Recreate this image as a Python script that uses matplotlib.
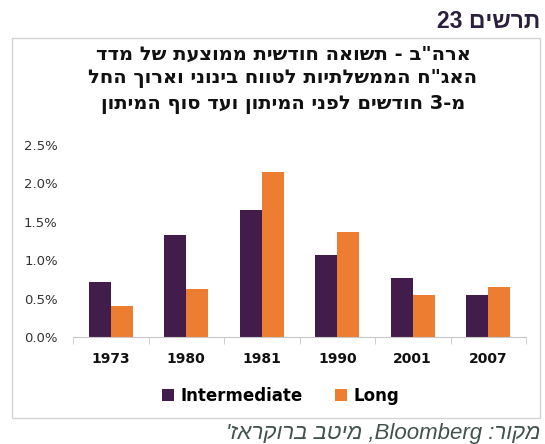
import re
import matplotlib.pyplot as plt
import numpy as np
from matplotlib.patches import Rectangle

years = ["1973", "1980", "1981", "1990", "2001", "2007"]
intermediate = [0.71, 1.33, 1.65, 1.07, 0.77, 0.55]
long_term = [0.41, 0.63, 2.15, 1.37, 0.55, 0.65]
series_names = ["Intermediate", "Long"]

fig_label = "תרשים 23"
title_lines = [
    'ארה"ב - תשואה חודשית ממוצעת של מדד',
    'האג"ח הממשלתיות לטווח בינוני וארוך החל',
    "מ-3 חודשים לפני המיתון ועד סוף המיתון",
]
source = "מקור: Bloomberg, מיטב ברוקראז'"


def visual(s):
    # crude bidi: reverse hebrew runs, keep latin/digit runs left-to-right
    parts = re.split(r"([A-Za-z0-9.]+)", s)
    out = []
    for p in reversed(parts):
        if re.fullmatch(r"[A-Za-z0-9.]+", p or "x"):
            out.append(p)
        else:
            out.append(p[::-1])
    return "".join(out)


purple = "#421c4a"
orange = "#ed7d31"

fig = plt.figure(figsize=(5.45, 4.44), dpi=100)

# outer frame of the chart
fig.patches.append(Rectangle((12 / 545, 1 - 418 / 444), 528 / 545, 380 / 444,
                             transform=fig.transFigure, fill=False,
                             edgecolor="#d4d4d4", linewidth=1))

fig.text(540 / 545, 1 - 22 / 444, visual(fig_label), ha="right", va="center",
         fontsize=16.5, fontweight="bold", color="#2a1f3d", family="Liberation Sans")

for i, line in enumerate(title_lines):
    fig.text(283 / 545, 1 - (54 + 25 * i) / 444, visual(line), ha="center", va="center",
             fontsize=14, fontweight="bold", color="#111111", family="DejaVu Sans")

ax = fig.add_axes([73 / 545, 1 - 337 / 444, 453 / 545, 192 / 444])
x = np.arange(len(years))
w = 0.29
ax.bar(x - w / 2, intermediate, w, color=purple, label=series_names[0])
ax.bar(x + w / 2, long_term, w, color=orange, label=series_names[1])

ax.set_xlim(-0.5, len(years) - 0.5)
ax.set_ylim(0, 2.5)
ax.set_yticks(np.arange(0, 2.51, 0.5))
ax.set_yticklabels([f"{v:.1f}%" for v in np.arange(0, 2.51, 0.5)], fontsize=9.5, color="#333333")
ax.set_xticks(x)
ax.set_xticklabels(years, fontsize=10, fontweight="bold", color="#111111")
ax.set_xticks(np.arange(-0.5, len(years)), minor=True)
ax.tick_params(axis="x", which="major", length=0, pad=11)
ax.tick_params(axis="x", which="minor", length=5, color="#c8c8c8")
ax.tick_params(axis="y", length=0, pad=11)
for side in ["top", "right", "left"]:
    ax.spines[side].set_visible(False)
ax.spines["bottom"].set_color("#c8c8c8")

ax.legend(loc="center", bbox_to_anchor=(0.458, -0.305), ncol=2, frameon=False,
          prop={"weight": "bold", "size": 12}, handlelength=0.72, handleheight=0.72,
          handletextpad=0.42, columnspacing=1.9)

fig.text(540 / 545, 1 - 433 / 444, visual(source), ha="right", va="center",
         fontsize=16, style="italic", color="#44524c", family="Liberation Sans")

fig.savefig("out.png", dpi=100)
